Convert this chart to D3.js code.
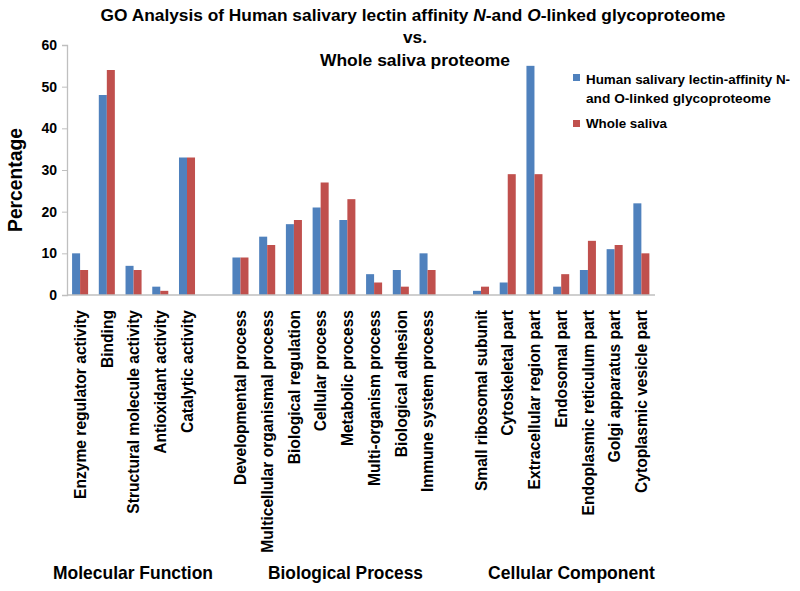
<!DOCTYPE html>
<html>
<head>
<meta charset="utf-8">
<script src="https://cdn.jsdelivr.net/npm/d3@7"></script>
<style>
  html, body { margin: 0; padding: 0; background: #fff; }
  svg { display: block; font-family: Arial, "Liberation Sans", sans-serif; }
</style>
</head>
<body>
<svg id="chart" width="800" height="591"></svg>
<script>
// ---------- data ----------
const groups = ["Molecular Function", "Biological Process", "Cellular Component"];
const molecularCats = ["Enzyme regulator activity", "Binding", "Structural molecule activity", "Antioxidant activity", "Catalytic activity"];
const biologicalCats = ["Developmental process", "Multicellular organismal process", "Biological regulation", "Cellular process", "Metabolic process", "Multi-organism process", "Biological adhesion", "Immune system process"];
const cellularCats = ["Small ribosomal subunit", "Cytoskeletal part", "Extracellular region part", "Endosomal part", "Endoplasmic reticulum part", "Golgi apparatus part", "Cytoplasmic vesicle part"];
const seriesNames = ["Human salivary lectin-affinity N-and O-linked glycoproteome", "Whole saliva"];
const glycoValues = [10, 48, 7, 2, 33, 9, 14, 17, 21, 18, 5, 6, 10, 1, 3, 55, 2, 6, 11, 22];
const wholeValues = [6, 54, 6, 1, 33, 9, 12, 18, 27, 23, 3, 2, 6, 2, 29, 29, 5, 13, 12, 10];
const yTicks = [0, 10, 20, 30, 40, 50, 60];
const seriesColors = ["#4F81BD", "#C0504D"];

// ---------- build slots ----------
const categories = [...molecularCats, ...biologicalCats, ...cellularCats];
const slots = [...molecularCats, "_gap1", ...biologicalCats, "_gap2", ...cellularCats];
const rows = categories.map((c, i) => ({ cat: c, vals: [glycoValues[i], wholeValues[i]] }));

const svg = d3.select("#chart");
const x = d3.scaleBand().domain(slots).range([67, 655]).padding(0);
const xs = d3.scaleBand().domain([0, 1]).range([x.bandwidth() * 0.19, x.bandwidth() * 0.79]);
const y = d3.scaleLinear().domain([0, 60]).range([295, 45]);

function fitWidth(sel, target, cx, cy, anchor) {
  const w = sel.node().getComputedTextLength();
  const s = target / w;
  sel.attr("x", 0).attr("y", 0).attr("text-anchor", anchor || "middle")
     .attr("transform", `translate(${cx},${cy}) scale(${s},1)`);
}

// ---------- bars ----------
const g = svg.append("g");
const grp = g.selectAll("g.cat").data(rows).join("g")
  .attr("transform", d => `translate(${x(d.cat)},0)`);
grp.selectAll("rect").data(d => d.vals.map((v, i) => ({ v, i }))).join("rect")
  .attr("x", d => xs(d.i))
  .attr("width", xs.bandwidth())
  .attr("y", d => y(d.v))
  .attr("height", d => y(0) - y(d.v))
  .attr("fill", d => seriesColors[d.i]);

// ---------- axes ----------
const yAxis = svg.append("g").attr("transform", "translate(67,0)")
  .call(d3.axisLeft(y).tickValues(yTicks).tickSize(5).tickPadding(5).tickFormat(d3.format("d")));
yAxis.select(".domain").attr("stroke", "#BFBFBF").attr("stroke-width", 1.3);
yAxis.selectAll(".tick line").attr("stroke", "#BFBFBF");
yAxis.selectAll(".tick text").attr("font-size", 14).attr("font-weight", "bold").attr("fill", "#000")
  .attr("font-family", "Arial, 'Liberation Sans', sans-serif");

svg.append("line").attr("x1", x.range()[0]).attr("x2", x.range()[1])
  .attr("y1", y(0)).attr("y2", y(0)).attr("stroke", "#BFBFBF").attr("stroke-width", 1.3);

// x category labels
svg.append("g").selectAll("text").data(categories).join("text")
  .attr("transform", d => `translate(${x(d) + x.bandwidth() / 2},310) rotate(-90)`)
  .attr("text-anchor", "end").attr("dy", "0.35em")
  .attr("font-size", 15.6).attr("font-weight", "bold").attr("fill", "#000")
  .text(d => d);

// y title
svg.append("text")
  .attr("transform", "translate(22,180) rotate(-90)")
  .attr("text-anchor", "middle").attr("font-size", 19.3).attr("font-weight", "bold")
  .text("Percentage");

// group labels
const groupPos = [[133, 160], [345.5, 155], [571.5, 167]];
groups.forEach((name, i) => {
  const t = svg.append("text").attr("font-size", 17.5).attr("font-weight", "bold").text(name);
  fitWidth(t, groupPos[i][1], groupPos[i][0], 579);
});

// ---------- title ----------
const t1 = svg.append("text").attr("font-size", 17.3).attr("font-weight", "bold");
t1.append("tspan").text("GO Analysis of Human salivary lectin affinity ");
t1.append("tspan").attr("font-style", "italic").text("N");
t1.append("tspan").text("-and ");
t1.append("tspan").attr("font-style", "italic").text("O");
t1.append("tspan").text("-linked glycoproteome");
fitWidth(t1, 625, 413, 20.5);
const t2 = svg.append("text").attr("font-size", 17.3).attr("font-weight", "bold").text("vs.");
fitWidth(t2, 24, 415, 43);
const t3 = svg.append("text").attr("font-size", 17.3).attr("font-weight", "bold").text("Whole saliva proteome");
fitWidth(t3, 190, 415, 65.5);

// ---------- legend ----------
const leg = svg.append("g");
const legLines = [
  { color: 0, lines: ["Human salivary lectin-affinity N-", "and O-linked glycoproteome"], widths: [204, 185], y: 84, sq: 74 },
  { color: 1, lines: ["Whole saliva"], widths: [81], y: 128, sq: 120 }
];
legLines.forEach(L => {
  leg.append("rect").attr("x", 573).attr("y", L.sq).attr("width", 7).attr("height", 7)
    .attr("fill", seriesColors[L.color]);
  L.lines.forEach((s, j) => {
    const t = leg.append("text").attr("font-size", 13.2).attr("font-weight", "bold").text(s);
    fitWidth(t, L.widths[j], 586, L.y + j * 19, "start");
  });
});
</script>
</body>
</html>
